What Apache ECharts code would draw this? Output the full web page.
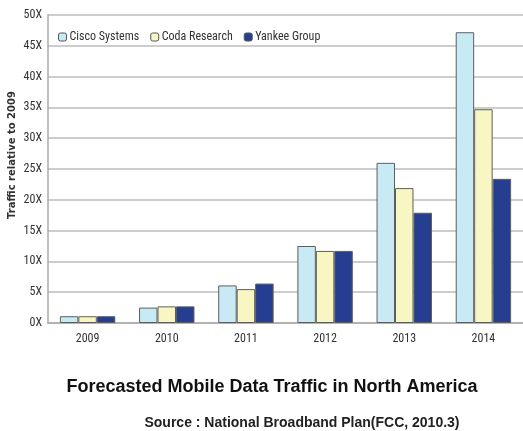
<!DOCTYPE html>
<html><head><meta charset="utf-8">
<script src="https://cdn.jsdelivr.net/npm/echarts@6/dist/echarts.min.js"></script>
<style>html,body{margin:0;padding:0;background:#fff;}#c{width:523px;height:431px;}</style>
</head><body><div id="c"></div>
<script>
var categories = ['2009','2010','2011','2012','2013','2014'];
var cisco = [1.1, 2.5, 6.1, 12.5, 26.0, 47.2];
var coda = [1.1, 2.7, 5.5, 11.7, 21.9, 34.7];
var yankee = [1.1, 2.7, 6.4, 11.7, 17.9, 23.4];
var yTicks = [0, 5, 10, 15, 20, 25, 30, 35, 40, 45, 50];

var narrow = '"Liberation Sans Narrow", "Roboto Condensed", sans-serif';
var chart = echarts.init(document.getElementById('c'));
function bar(name, data, color) {
  return {
    name: name, type: 'bar', data: data, barGap: '0%', barCategoryGap: '30%',
    itemStyle: { color: color, borderColor: '#5e5e5e', borderWidth: 1 }
  };
}
chart.setOption({
  animation: false,
  backgroundColor: '#fff',
  grid: { left: 48, top: 15, width: 478, height: 308, containLabel: false },
  title: [
    { text: 'Forecasted Mobile Data Traffic in North America', left: 267, top: 373, textAlign: 'center',
      textStyle: { fontFamily: '"Liberation Sans", Arial, sans-serif', fontWeight: 'bold', fontSize: 18, color: '#111' } },
    { text: 'Source : National Broadband Plan(FCC, 2010.3)', left: 297, top: 411, textAlign: 'center',
      textStyle: { fontFamily: '"Liberation Sans", Arial, sans-serif', fontWeight: 'bold', fontSize: 14, color: '#222' } }
  ],
  legend: {
    left: 53, top: 26, itemWidth: 8, itemHeight: 8, itemGap: 11,
    textStyle: { fontFamily: narrow, fontSize: 12, color: '#333', padding: [0, 0, 0, -2] },
    data: [
      { name: 'Cisco Systems', itemStyle: { borderColor: '#555', borderWidth: 1 } },
      { name: 'Coda Research', itemStyle: { borderColor: '#555', borderWidth: 1 } },
      { name: 'Yankee Group', itemStyle: { borderColor: '#555', borderWidth: 1 } }
    ]
  },
  graphic: [{
    type: 'text', x: 12, y: 155, rotation: Math.PI / 2,
    style: { text: 'Traffic relative to 2009', fill: '#333', font: 'bold 10px "DejaVu Sans", sans-serif',
      align: 'center', verticalAlign: 'middle' }
  }],
  xAxis: {
    type: 'category', data: categories,
    axisLine: { lineStyle: { color: '#aaa', width: 1.5 } },
    axisTick: { show: false },
    axisLabel: { fontFamily: narrow, fontSize: 12, color: '#333', margin: 10 }
  },
  yAxis: {
    type: 'value', min: 0, max: 50, interval: 5,
    axisLine: { show: true, lineStyle: { color: '#aaa', width: 1.5 } },
    axisTick: { show: false },
    splitLine: { lineStyle: { color: '#bdbdbd', width: 1.5 } },
    axisLabel: { fontFamily: narrow, fontSize: 12, color: '#333', margin: 6,
      formatter: function (v) { return yTicks.indexOf(v) >= 0 ? v + 'X' : ''; } }
  },
  series: [
    bar('Cisco Systems', cisco, '#c8eaf4'),
    bar('Coda Research', coda, '#f8f7c4'),
    bar('Yankee Group', yankee, '#263e8f')
  ]
});
</script></body></html>
